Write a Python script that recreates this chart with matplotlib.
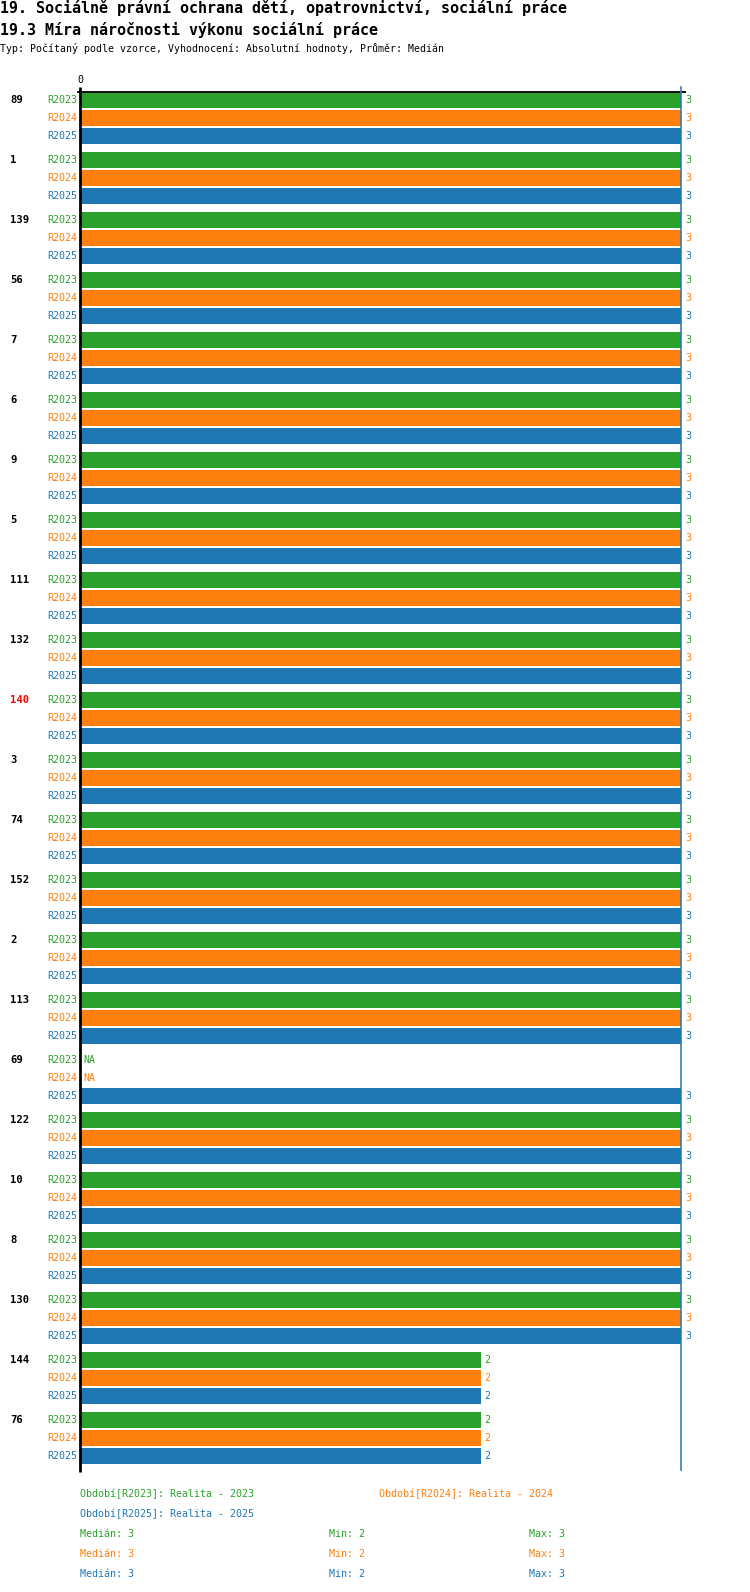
import numpy as np
import matplotlib
matplotlib.use("Agg")
from matplotlib import pyplot as plt

plt.rcParams['font.family'] = ['DejaVu Sans Mono', 'DejaVu Sans']

categories = ['89', '1', '139', '56', '7', '6', '9', '5', '111', '132', '140', '3',
              '74', '152', '2', '113', '69', '122', '10', '8', '130', '144', '76']
series = ['R2023', 'R2024', 'R2025']
r2023 = [3, 3, 3, 3, 3, 3, 3, 3, 3, 3, 3, 3, 3, 3, 3, 3, None, 3, 3, 3, 3, 2, 2]
r2024 = [3, 3, 3, 3, 3, 3, 3, 3, 3, 3, 3, 3, 3, 3, 3, 3, None, 3, 3, 3, 3, 2, 2]
r2025 = [3, 3, 3, 3, 3, 3, 3, 3, 3, 3, 3, 3, 3, 3, 3, 3, 3, 3, 3, 3, 3, 2, 2]
values = [r2023, r2024, r2025]
colors = ['#2ca02c', '#ff7f0e', '#1f77b4']
highlight = '140'
legend_names = ['Období[R2023]: Realita - 2023', 'Období[R2024]: Realita - 2024',
                'Období[R2025]: Realita - 2025']
median_val = [3, 3, 3]
min_val = [2, 2, 2]
max_val = [3, 3, 3]

title1 = '19. Sociálně právní ochrana dětí, opatrovnictví, sociální práce'
title2 = '19.3 Míra náročnosti výkonu sociální práce'
subtitle = 'Typ: Počítaný podle vzorce, Vyhodnocení: Absolutní hodnoty, Průměr: Medián'

W, H = 750, 1592
fig = plt.figure(figsize=(W / 100, H / 100), dpi=100)

# axes box in pixels
ax_l, ax_r, ax_t, ax_b = 80, 686, 92, 1470
ax = fig.add_axes([ax_l / W, 1 - ax_b / H, (ax_r - ax_l) / W, (ax_b - ax_t) / H])

group_pitch = 60.0
bar_pitch = 17.8
bar_h = 16.0
xmax = 3 * (ax_r - ax_l) / 601.0

for i, cat in enumerate(categories):
    for j, s in enumerate(series):
        v = values[j][i]
        top = 0.3 + group_pitch * i + bar_pitch * j
        yc = top + bar_h / 2
        if v is not None:
            ax.barh(yc, v, height=bar_h, color=colors[j], edgecolor='none')
            ax.annotate(str(v), (v, yc), xytext=(2.8, 0), textcoords='offset points',
                        ha='left', va='center', fontsize=7.2, color=colors[j])
        else:
            ax.annotate('NA', (0, yc), xytext=(2.2, 0), textcoords='offset points',
                        ha='left', va='center', fontsize=7.2, color=colors[j])
        ax.annotate(s, (0, yc), xytext=(-2.2, 0), textcoords='offset points',
                    ha='right', va='center', fontsize=7.2, color=colors[j],
                    annotation_clip=False)
    yc0 = 0.3 + group_pitch * i + bar_h / 2
    ax.annotate(cat, (0, yc0), xycoords=('axes fraction', 'data'),
                xytext=(10 - ax_l, 0), textcoords='offset pixels',
                ha='left', va='center', fontsize=7.6, fontweight='bold',
                color='#ff0000' if cat == highlight else 'black',
                annotation_clip=False)

ax.set_xlim(0, xmax)
ax.set_ylim(ax_b - ax_t, 0)
ax.axis('off')

# spines drawn by hand
hx = 1.0 / (ax_r - ax_l)
hy = 1.0 / (ax_b - ax_t)
ax.plot([0, 0], [1 + 5 * hy, -2 * hy], color='black', lw=2, transform=ax.transAxes,
        clip_on=False, solid_capstyle='butt')
ax.plot([-3 * hx, 1], [1, 1], color='black', lw=1.3, transform=ax.transAxes,
        clip_on=False, solid_capstyle='butt')
ax.text(0, 1 + 12 * hy, '0', transform=ax.transAxes, ha='center', va='center',
        fontsize=7.2, color='black')

# median line
ax.plot([median_val[2], median_val[2]], [0, 1], color=colors[2], lw=1.1,
        transform=ax.get_xaxis_transform(), clip_on=False)
ax.plot([median_val[2], median_val[2]], [1, 1 + 5 * hy], color=colors[2], lw=1.1,
        transform=ax.get_xaxis_transform(), clip_on=False)

fig.text(0, 1 - 8 / H, title1, ha='left', va='center', fontsize=10.85,
         fontweight='bold', color='black')
fig.text(0, 1 - 30 / H, title2, ha='left', va='center', fontsize=10.85,
         fontweight='bold', color='black')
fig.text(0, 1 - 49 / H, subtitle, ha='left', va='center', fontsize=7.1, color='black')

# legend
fig.text(80 / W, 1 - 1494 / H, legend_names[0], ha='left', va='center',
         fontsize=7.2, color=colors[0])
fig.text(379 / W, 1 - 1494 / H, legend_names[1], ha='left', va='center',
         fontsize=7.2, color=colors[1])
fig.text(80 / W, 1 - 1514 / H, legend_names[2], ha='left', va='center',
         fontsize=7.2, color=colors[2])
for j in range(3):
    yy = 1 - (1534 + 20 * j) / H
    fig.text(80 / W, yy, 'Medián: %d' % median_val[j], ha='left', va='center',
             fontsize=7.2, color=colors[j])
    fig.text(329 / W, yy, 'Min: %d' % min_val[j], ha='left', va='center',
             fontsize=7.2, color=colors[j])
    fig.text(529 / W, yy, 'Max: %d' % max_val[j], ha='left', va='center',
             fontsize=7.2, color=colors[j])

fig.savefig('out.png', dpi=100)
